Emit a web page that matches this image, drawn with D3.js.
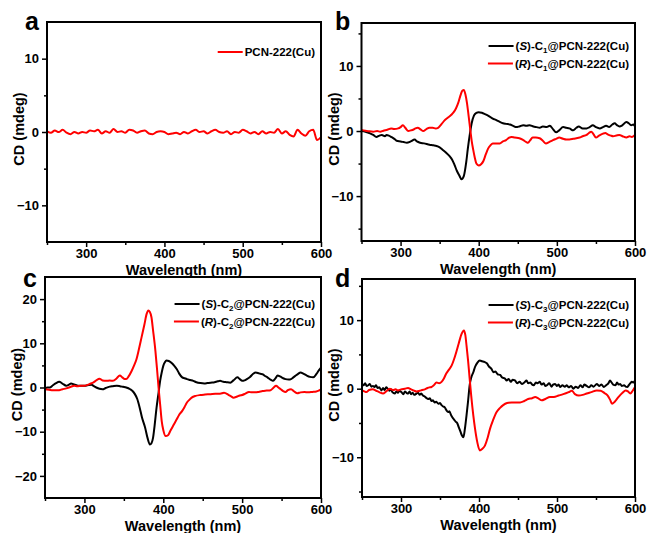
<!DOCTYPE html>
<html>
<head>
<meta charset="utf-8">
<title>CD spectra of PCN-222(Cu) composites</title>
<script src="https://d3js.org/d3.v7.min.js"></script>
<style>
    body { margin: 0; background: #fff; }
    svg { font-family: "Liberation Sans", Arial, sans-serif; font-weight: bold; }
    .tick text { font-size: 13px; font-weight: bold; }
</style>
</head>
<body>
<svg id="fig" width="648" height="533"></svg>
<script>
// [wavelength (nm), CD (mdeg)]
var aPCN = [[250,0.1],[255,-0.1],[260,0.2],[265,0.0],[270,0.3],[275,-0.1],[280,-0.3],[285,0.0],[290,-0.2],[295,0.0],
    [300,-0.1],[305,0.2],[310,0.1],[315,0.3],[320,-0.2],[325,0.1],[330,-0.1],[335,0.4],[340,0.0],[345,0.1],
    [350,-0.1],[355,0.3],[360,0.2],[365,-0.1],[370,0.1],[375,0.2],[380,-0.2],[385,-0.3],[390,0.0],[395,0.1],
    [400,0.0],[405,-0.3],[410,-0.2],[415,-0.1],[420,-0.3],[425,0.0],[430,-0.2],[435,0.1],[440,0.3],[445,0.0],
    [450,0.1],[455,-0.2],[460,0.1],[465,0.3],[470,0.0],[475,-0.1],[480,0.1],[485,-0.3],[490,0.0],[495,-0.1],
    [500,0.3],[505,0.1],[510,-0.2],[515,0.0],[520,-0.3],[525,0.1],[530,-0.2],[535,0.0],[540,-0.1],[545,0.4],
    [550,-0.2],[555,0.1],[560,-0.4],[565,-0.6],[570,0.3],[575,-0.2],[580,-0.5],[585,0.1],[590,0.3],[595,-1.1],[600,-0.7]];

var bS = [[250,0.0],[255,-0.1],[261,-0.35],[265,-0.6],[269,-0.9],[273,-0.7],[276,-0.6],[280,-0.8],[282,-0.6],[285,-0.7],
    [288,-0.9],[292,-1.2],[295,-1.5],[300,-1.6],[304,-1.7],[308,-1.8],[313,-1.6],[318,-1.3],[321,-1.6],[325,-1.8],
    [330,-1.9],[337,-2.1],[342,-2.2],[346,-2.3],[350,-2.5],[354,-2.9],[358,-3.3],[363,-3.9],[366,-4.4],[369,-5.2],
    [372,-6.1],[375,-6.8],[378,-7.4],[381,-6.9],[384,-4.8],[386,-2.8],[388.5,-0.6],[391,1.2],[394,2.4],[397,2.8],
    [400,2.9],[404,2.8],[408,2.6],[413,2.3],[418,1.9],[422,1.7],[427,1.4],[431,1.2],[435,1.1],[440,1.0],
    [444,0.8],[448,0.6],[452,0.7],[457,0.9],[461,0.8],[465,0.9],[470,0.7],[474,0.6],[478,0.5],[482,0.7],
    [487,0.6],[491,0.8],[495,0.3],[499,-0.2],[503,0.1],[508,0.6],[512,0.5],[516,0.4],[521,0.1],[525,0.5],
    [528,0.7],[533,0.4],[538,0.4],[542,0.6],[546,0.9],[550,0.6],[555,0.4],[559,0.6],[563,0.8],[567,0.6],
    [571,1.0],[574,1.2],[577,0.9],[580,0.7],[584,0.9],[589,1.4],[592,1.2],[595,0.9],[598,1.0],[600,0.7]];
var bR = [[250,0.15],[255,0.05],[260,-0.05],[265,-0.1],[270,0.0],[274,-0.1],[278,0.05],[283,0.2],[288,0.4],[292,0.3],
    [297,0.4],[300,0.6],[303,0.9],[306,0.5],[310,0.0],[313,0.1],[316,0.2],[319,0.4],[322,0.5],[326,0.2],
    [329,0.0],[333,0.3],[337,0.5],[341,0.5],[345,0.4],[348,0.5],[352,1.0],[356,1.6],[360,2.0],[365,2.5],
    [368,2.9],[371,3.5],[374,4.4],[377,5.6],[379,6.2],[381,6.3],[383,5.6],[385,4.3],[387,2.4],[389,0.4],
    [391,-1.5],[393,-2.9],[395,-4.1],[397,-5.0],[400,-5.3],[403,-5.1],[406,-4.6],[409,-3.6],[412,-2.7],[415,-2.2],
    [418,-1.9],[422,-1.9],[427,-1.9],[431,-1.6],[435,-1.4],[439,-1.0],[442,-0.9],[446,-1.0],[452,-1.1],[457,-1.4],
    [461,-1.7],[463,-1.8],[466,-1.4],[469,-1.0],[473,-1.0],[478,-1.1],[482,-1.5],[486,-1.9],[490,-1.7],[495,-1.4],
    [499,-1.2],[503,-1.0],[508,-1.2],[512,-1.3],[516,-1.3],[521,-1.2],[525,-1.1],[529,-1.0],[533,-0.8],[538,-0.6],
    [541,-0.3],[544,-0.1],[547,-0.5],[550,-1.0],[554,-0.7],[559,-0.4],[562,-0.3],[565,-0.5],[569,-0.7],[572,-0.8],
    [576,-0.7],[580,-0.6],[584,-0.8],[589,-1.0],[593,-0.8],[596,-0.9],[600,-0.6]];

var cS = [[250,-0.4],[253,0.0],[256,0.0],[260,0.5],[264,1.0],[268,1.3],[272,0.9],[277,0.4],[280,0.6],[283,0.9],
    [287,0.7],[292,0.4],[296,0.4],[300,0.4],[304,0.5],[309,0.6],[312,0.3],[315,0.0],[319,-0.3],[323,-0.4],
    [327,-0.1],[332,0.2],[336,0.3],[341,0.4],[345,0.3],[349,0.15],[353,0.0],[358,-0.4],[361,-0.8],[364,-1.5],
    [367,-2.6],[370,-4.5],[373,-6.8],[377,-9.1],[380,-11.4],[383,-12.9],[385,-12.6],[387,-11.4],[389,-8.6],[391.5,-4.5],
    [394,-1.2],[396,1.5],[398,3.4],[400,4.9],[402,5.7],[404,6.1],[407,6.0],[411,5.5],[414,4.9],[417,4.2],
    [420,3.2],[424,2.3],[427,2.1],[430,1.9],[434,1.7],[438,1.5],[442,1.2],[447,1.0],[452,0.9],[456,1.0],
    [460,1.1],[465,1.2],[469,1.4],[472,1.5],[476,1.3],[480,1.2],[485,1.1],[489,1.6],[494,2.3],[497,1.9],
    [500,1.5],[503,1.6],[506,1.9],[510,2.4],[514,3.1],[517,3.4],[520,3.3],[523,3.1],[526,3.0],[529,2.6],
    [532,2.3],[536,1.8],[539,1.5],[542,2.0],[545,2.7],[548,2.5],[552,2.1],[555,1.9],[559,1.8],[562,1.9],
    [565,2.3],[568,2.7],[571,3.1],[574,3.4],[578,3.1],[582,2.7],[586,2.4],[590,2.3],[594,3.0],[597,3.8],[600,4.5]];
var cR = [[250,-0.4],[255,-0.5],[260,-0.6],[264,-0.6],[268,-0.6],[272,-0.4],[277,-0.2],[282,0.1],[287,0.4],[291,0.3],
    [295,0.4],[300,0.4],[304,0.6],[308,0.9],[311,1.1],[315,1.6],[319,2.0],[323,1.6],[328,1.5],[332,1.6],
    [336,1.5],[340,1.9],[343,2.5],[345,2.7],[348,2.3],[351,1.9],[353,1.9],[356,2.5],[360,3.8],[363,5.0],
    [366,6.4],[369,8.6],[372.5,11.4],[376,14.2],[379,16.7],[381,17.4],[383,17.1],[385,15.9],[387,13.0],[390,8.3],
    [392,4.3],[394,0.0],[396,-3.8],[398,-7.6],[400,-9.6],[403,-11.0],[406,-10.8],[409,-9.8],[413,-8.5],[417,-7.2],
    [420,-6.2],[424,-5.3],[427,-4.4],[430,-3.4],[433,-2.8],[436,-2.3],[441,-1.9],[447,-1.7],[453,-1.6],[460,-1.5],
    [466,-1.4],[472,-1.4],[477,-1.2],[483,-1.7],[486,-2.0],[489,-2.3],[493,-2.1],[497,-1.8],[500,-1.7],[504,-1.4],
    [508.6,-1.0],[512,-1.1],[517,-1.1],[521,-1.0],[526,-0.8],[531,-0.7],[536,-0.6],[540,0.0],[543,0.4],[546,0.0],
    [549,-0.4],[552,-0.8],[555,-1.0],[558,-0.6],[562,-0.4],[566,-0.9],[570,-1.3],[574,-1.1],[579,-1.0],[584,-1.1],
    [589,-1.0],[594,-0.9],[597,-0.7],[600,-0.4]];

var dS = [[250,0.7],[252,0.5],[254,0.8],[256,0.4],[258,0.5],[260,0.7],[262,0.3],[264,0.4],[266,0.25],[268,0.5],
    [270,0.1],[272,0.2],[275,-0.25],[277,0.1],[279,-0.2],[281,0.2],[283,0.0],[285,-0.3],[287,-0.1],[289,-0.5],
    [292,-0.7],[294,-0.4],[296,-0.6],[298,-0.3],[300.5,-0.5],[303,-0.8],[305,-0.4],[307,-0.6],[309,-0.7],[311,-0.4],
    [313,-0.8],[315,-0.6],[317,-0.9],[320,-0.7],[322,-0.6],[324,-0.9],[326,-0.7],[328,-1.0],[330,-1.1],[332,-1.3],
    [335,-1.5],[337,-1.4],[339,-1.8],[341,-1.7],[343,-2.0],[345,-1.9],[348,-2.2],[350,-2.1],[352,-2.4],[354,-2.6],
    [356,-2.7],[358,-3.1],[360.5,-3.4],[362,-3.3],[364,-3.8],[366,-4.2],[368,-4.5],[370,-4.8],[372,-5.0],[374,-5.6],
    [376,-6.2],[378,-6.8],[380,-7.1],[382,-5.8],[384,-3.9],[386,-1.8],[388,0.5],[390,1.6],[392.7,2.4],[395,3.2],
    [398,3.8],[401,4.1],[404,4.0],[407,3.9],[410,3.7],[413,3.2],[416,2.9],[418.5,2.4],[421,2.5],[424,2.1],
    [427,2.0],[430,1.6],[433,1.5],[435.5,1.2],[438,1.4],[441,1.0],[443,1.3],[446,1.2],[449,0.8],[452,1.0],
    [455,0.7],[458,0.9],[461,1.2],[463,0.8],[466,0.9],[468,0.6],[470,0.5],[473,0.9],[475,0.8],[478,1.0],
    [480,0.6],[483,0.8],[485,0.4],[487,0.5],[490,0.8],[493,0.3],[495,0.6],[497.6,0.7],[500,0.4],[502,0.6],
    [504,0.25],[507,0.5],[510,0.3],[512.6,0.5],[515,0.2],[518,0.4],[521,0.0],[524,0.3],[527,0.1],[530,0.5],
    [533,0.2],[535,0.6],[538,0.4],[541,0.2],[544,0.5],[547,0.3],[551,0.7],[554,0.4],[557,0.6],[560,0.25],
    [563,0.5],[566,0.8],[568,1.2],[570,0.9],[572,0.6],[575,0.5],[577,0.9],[579,0.6],[581,0.7],[583,0.4],
    [586,0.5],[588,0.3],[590,0.25],[592,0.5],[594,0.8],[596,1.0],[598,0.9],[600,1.2]];
var dR = [[250,-0.25],[253,-0.4],[255.6,-0.5],[259,-0.2],[264,-0.1],[268,-0.3],[272,-0.5],[277,-0.7],[281,-0.4],[285.6,0.0],
    [290,-0.2],[293,-0.1],[296,-0.25],[300,-0.1],[305,0.0],[309,0.1],[313,-0.1],[317,-0.3],[320,-0.4],[324,-0.3],
    [327,-0.2],[330.5,-0.1],[334,0.1],[337,0.2],[339,0.25],[342,0.5],[345.5,0.9],[349,0.8],[352,1.0],[355,1.5],
    [358,2.2],[361,2.7],[365,3.4],[368,4.3],[371,5.4],[374,6.6],[377.7,8.0],[380.7,8.5],[382.5,7.8],[384,6.3],
    [386,4.1],[388,1.5],[390,-1.0],[392.7,-3.9],[395,-5.9],[397.8,-7.8],[401,-9.0],[404,-8.8],[407.6,-8.3],[411,-7.2],
    [414,-5.9],[418,-4.6],[422.6,-3.4],[427,-2.8],[431,-2.4],[436,-2.1],[442,-2.0],[447,-2.0],[452.6,-2.0],[458,-1.8],
    [463,-1.5],[468,-1.4],[472,-1.2],[476,-1.4],[480.5,-1.7],[485,-1.5],[491,-1.2],[496,-1.2],[502,-1.0],[508,-0.8],
    [515,-0.5],[519,-0.3],[523,-0.8],[528,-1.0],[533,-0.9],[538,-0.7],[544,-0.5],[551,-0.25],[556,-0.3],[561.6,-0.7],
    [565,-1.0],[568,-1.6],[570.6,-2.2],[574,-1.9],[579,-1.2],[584,-0.6],[588,-0.25],[591,-0.4],[594,-0.7],[597,-0.3],[600,0.25]];

var xTicks = [300, 400, 500, 600];
var xMinor = [250, 350, 450, 550];

// legend labels: plain text, or [italic enantiomer letter, subscript]
var legendA = ["PCN-222(Cu)"];
var legendB = [["S", "1"], ["R", "1"]];
var legendC = [["S", "2"], ["R", "2"]];
var legendD = [["S", "3"], ["R", "3"]];

var panels = [
    { letter: "a", left: 47, right: 321, top: 22, bottom: 242, yDom: [-15, 15], yTicks: [-10, 0, 10], yMinor: [-15, -5, 5, 15],
      series: [aPCN], colors: ["#ff0000"], legend: legendA, legY: 52, lx: 25, ly: 30 },
    { letter: "b", left: 361.5, right: 635, top: 23, bottom: 241, yDom: [-16.9, 16.6], yTicks: [-10, 0, 10], yMinor: [-15, -5, 5, 15],
      series: [bS, bR], colors: ["#000000", "#ff0000"], legend: legendB, legY: 46, lx: 335, ly: 30 },
    { letter: "c", left: 45, right: 321, top: 277, bottom: 498, yDom: [-25, 25], yTicks: [-20, -10, 0, 10, 20], yMinor: [-25, -15, -5, 5, 15, 25],
      series: [cS, cR], colors: ["#000000", "#ff0000"], legend: legendC, legY: 304, lx: 23, ly: 287 },
    { letter: "d", left: 362, right: 635, top: 279, bottom: 497, yDom: [-15.8, 16], yTicks: [-10, 0, 10], yMinor: [-15, -5, 5, 15],
      series: [dS, dR], colors: ["#000000", "#ff0000"], legend: legendD, legY: 305, lx: 335, ly: 287 }
];

var svg = d3.select("#fig");

panels.forEach(function(p, pi) {
    var x = d3.scaleLinear().domain([250, 600]).range([p.left, p.right]);
    var y = d3.scaleLinear().domain(p.yDom).range([p.bottom, p.top]);
    var g = svg.append("g");

    g.append("clipPath").attr("id", "clip" + pi)
        .append("rect")
        .attr("x", p.left).attr("y", p.top)
        .attr("width", p.right - p.left).attr("height", p.bottom - p.top);

    var line = d3.line()
        .x(function(d) { return x(d[0]); })
        .y(function(d) { return y(d[1]); })
        .curve(d3.curveMonotoneX);

    p.series.forEach(function(s, i) {
        g.append("path")
            .attr("d", line(s))
            .attr("clip-path", "url(#clip" + pi + ")")
            .attr("fill", "none")
            .attr("stroke", p.colors[i])
            .attr("stroke-width", 2)
            .attr("stroke-linejoin", "round");
    });

    // frame
    g.append("rect")
        .attr("x", p.left).attr("y", p.top)
        .attr("width", p.right - p.left).attr("height", p.bottom - p.top)
        .attr("fill", "none").attr("stroke", "#000").attr("stroke-width", 2);

    // axes
    var xAxis = g.append("g").attr("transform", "translate(0," + p.bottom + ")")
        .call(d3.axisBottom(x).tickValues(xTicks).tickSize(5).tickPadding(2).tickFormat(d3.format("d")));
    var xAxisMinor = g.append("g").attr("transform", "translate(0," + p.bottom + ")")
        .call(d3.axisBottom(x).tickValues(xMinor).tickSize(3).tickFormat(""));
    var yAxis = g.append("g").attr("transform", "translate(" + p.left + ",0)")
        .call(d3.axisLeft(y).tickValues(p.yTicks).tickSize(5).tickPadding(3).tickFormat(d3.format("d")));
    var yAxisMinor = g.append("g").attr("transform", "translate(" + p.left + ",0)")
        .call(d3.axisLeft(y).tickValues(p.yMinor.filter(function(v) { return v > p.yDom[0] && v < p.yDom[1]; }))
            .tickSize(3).tickFormat(""));
    [xAxis, xAxisMinor, yAxis, yAxisMinor].forEach(function(a) {
        a.select(".domain").remove();
        a.selectAll(".tick line").attr("stroke-width", 1.5);
        a.selectAll(".tick text").attr("fill", "#000");
    });

    // axis titles
    g.append("text")
        .attr("x", (p.left + p.right) / 2)
        .attr("y", p.bottom + 33)
        .attr("text-anchor", "middle")
        .style("font-size", "14.5px")
        .text("Wavelength (nm)");
    g.append("text")
        .attr("transform", "translate(" + (p.left - 23) + "," + ((p.top + p.bottom) / 2 - 3) + ") rotate(-90)")
        .attr("text-anchor", "middle")
        .style("font-size", "14.5px")
        .text("CD (mdeg)");

    // panel letter
    g.append("text")
        .attr("x", p.lx).attr("y", p.ly)
        .style("font-size", "25px")
        .text(p.letter);

    // legend
    p.legend.forEach(function(item, i) {
        var ty = p.legY + i * 17.5;
        var t = g.append("text")
            .attr("x", p.right - 6)
            .attr("y", ty + 4)
            .attr("text-anchor", "end")
            .style("font-size", "11.5px");
        if (typeof item === "string") {
            t.text(item);
        } else {
            t.append("tspan").text("(");
            t.append("tspan").style("font-style", "italic").text(item[0]);
            t.append("tspan").text(")-C");
            t.append("tspan").attr("dy", 3).style("font-size", "8px").text(item[1]);
            t.append("tspan").attr("dy", -3).text("@PCN-222(Cu)");
        }
        var bb = t.node().getBBox();
        g.append("line")
            .attr("x1", bb.x - 27).attr("x2", bb.x - 2)
            .attr("y1", ty).attr("y2", ty)
            .attr("stroke", p.colors[i]).attr("stroke-width", 2);
    });
});
</script>
</body>
</html>
